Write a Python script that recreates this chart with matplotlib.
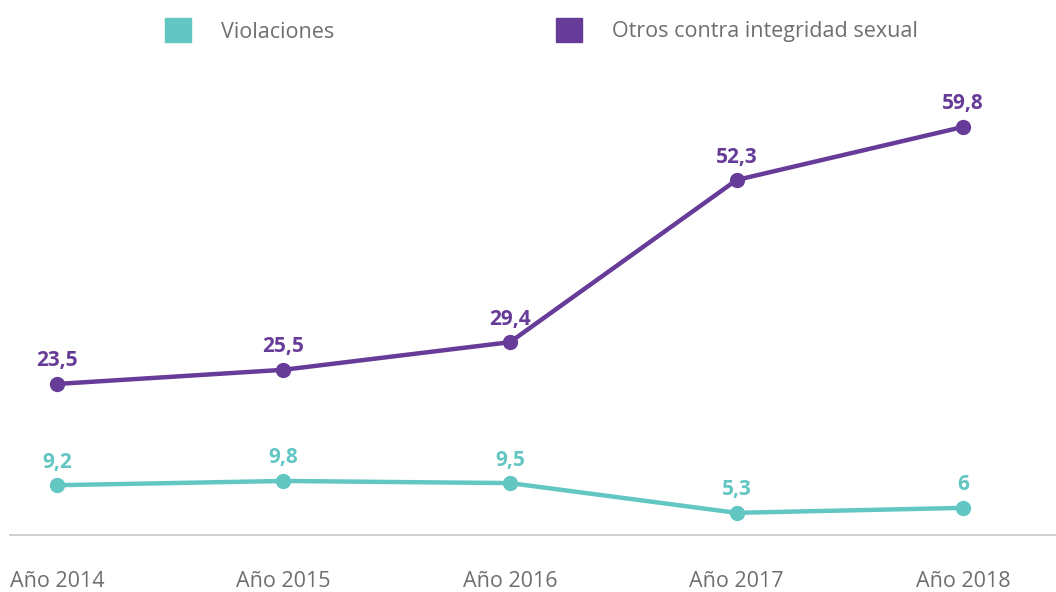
import matplotlib
matplotlib.use("Agg")
import matplotlib.pyplot as plt
from matplotlib.patches import Rectangle

# Data
years = ["Año 2014", "Año 2015", "Año 2016", "Año 2017", "Año 2018"]
violaciones = [9.2, 9.8, 9.5, 5.3, 6.0]
otros = [23.5, 25.5, 29.4, 52.3, 59.8]
series_names = ["Violaciones", "Otros contra integridad sexual"]

TEAL = "#62C6C2"
PURPLE = "#663C98"
GRAY_TEXT = "#6E6E73"

plt.rcParams['font.family'] = ['Open Sans', 'DejaVu Sans']

fig = plt.figure(figsize=(10.56, 5.92), dpi=100)
ax = fig.add_axes([10 / 1056, 1 - 535 / 592, 1 - 10 / 1056, (535 - 100) / 592])

x = list(range(len(years)))


def fmt(v):
    s = f"{v:.1f}".replace(".", ",")
    if s.endswith(",0"):
        s = s[:-2]
    return s


for vals, col in [(violaciones, TEAL), (otros, PURPLE)]:
    ax.plot(x, vals, color=col, linewidth=3.2, marker="o", markersize=10,
            solid_capstyle="round", zorder=3)
    for xi, v in zip(x, vals):
        ax.annotate(fmt(v), (xi, v), xytext=(0, 9), textcoords="offset points",
                    ha="center", va="bottom", fontsize=15, fontweight="bold",
                    color=col)

ax.set_xlim(-0.207, 4.41)
ax.set_ylim(2.17, 63.6)

for side in ["top", "right", "left"]:
    ax.spines[side].set_visible(False)
ax.spines["bottom"].set_color("#C8C8CC")
ax.spines["bottom"].set_linewidth(1.2)
ax.set_yticks([])
ax.set_xticks(x)
ax.set_xticklabels(years, fontsize=15.5, color=GRAY_TEXT)
ax.tick_params(axis="x", length=0, pad=26)

# legend drawn manually to match layout
for (name, col, sx, tx) in [(series_names[0], TEAL, 165, 221),
                             (series_names[1], PURPLE, 556, 612)]:
    fig.patches.append(Rectangle((sx / 1056, 1 - 42 / 592), 26 / 1056, 24 / 592,
                                 transform=fig.transFigure, color=col))
    fig.text(tx / 1056, 1 - 32 / 592, name, fontsize=15.5, color=GRAY_TEXT,
             ha="left", va="center")

fig.savefig("out.png", dpi=100)
